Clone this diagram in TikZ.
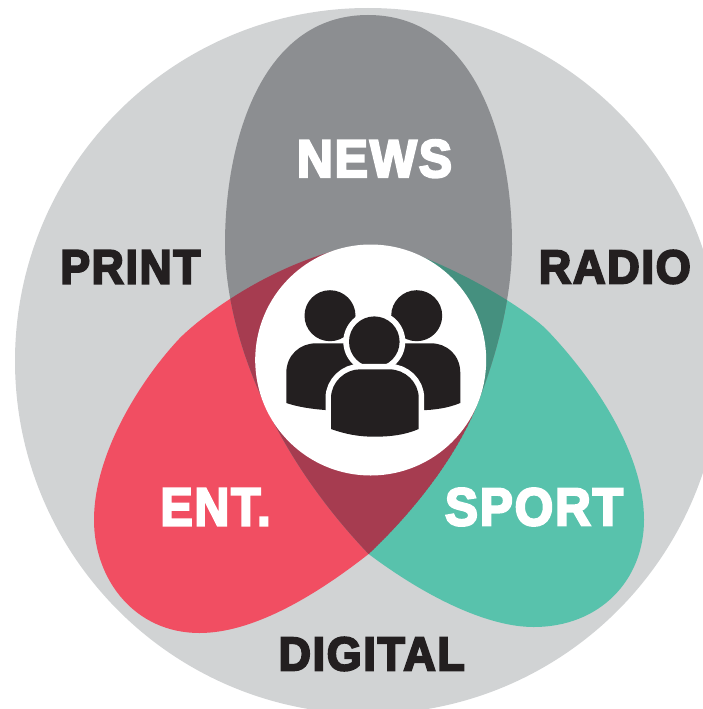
\documentclass[tikz,border=0pt]{standalone}
\usepackage{graphicx}
\usepackage{fontspec}
\newfontfamily\labfont{Liberation Sans Bold}[FakeBold=4.5,LetterSpace=4]
\definecolor{bgc}{HTML}{D1D3D4}
\definecolor{newsc}{HTML}{8C8E91}
\definecolor{entc}{HTML}{F14E62}
\definecolor{sportc}{HTML}{58C2AC}
\definecolor{darkred}{HTML}{A63C50}
\definecolor{darkgreen}{HTML}{45907F}
\definecolor{inkc}{HTML}{231F20}
\newcommand{\fitlab}[3]{\resizebox{#1pt}{#2pt}{\labfont #3}}
\tikzset{
  lab/.style={inner sep=0pt,anchor=center},
  darklab/.style={lab,text=inkc},
  whitelab/.style={lab,text=white},
  person/.style={fill=inkc,draw=none},
  halo/.style={fill=inkc,draw=white,line width=11pt}
}
\def\newspath{(368,15) .. controls (262,15) and (225,140) .. (225,244)
  .. controls (225,320) and (260,440) .. (368.6,554)
  .. controls (410,515) and (455,460) .. (477,405)
  .. controls (495,360) and (512,300) .. (512,244)
  .. controls (512,140) and (475,15) .. (368,15) -- cycle}
\def\entpath{(477,405) .. controls (455,460) and (410,515) .. (368.6,554)
  .. controls (310,600) and (250,633) .. (199.5,633)
  .. controls (135,633) and (94,580) .. (94,520)
  .. controls (94,450) and (145,375) .. (179,339)
  .. controls (195,322) and (262,268) .. (345,248)
  -- (380,300) -- cycle}
\def\sportpath{(368.6,554) .. controls (430,600) and (490,627) .. (533.6,627)
  .. controls (600,627) and (644,580) .. (644,520)
  .. controls (644,450) and (590,375) .. (547,330)
  .. controls (530,313) and (480,280) .. (420,256)
  -- (400,300) -- (330,450) -- cycle}
\begin{document}
\begin{tikzpicture}[x=1pt,y=-1pt]
\useasboundingbox (0,0) rectangle (703,709);
\begin{scope}
\clip (0,0) rectangle (703,709);
\fill[bgc] (368,361) circle[radius=353pt];
\fill[sportc] \sportpath;
\fill[entc] \entpath;
\fill[newsc] \newspath;
\begin{scope}
  \clip \newspath;
  \fill[darkgreen] \sportpath;
  \fill[darkred] \entpath;
\end{scope}
\fill[white] (370.7,360) circle[radius=115.5pt];
% back people
\fill[person] (330,315.7) circle[radius=25.5pt];
\fill[person] (416.7,315.7) circle[radius=25.5pt];
\fill[person] (286.3,403) -- (286.3,373) .. controls (286.3,355) and (300,343.3) .. (316,343.3)
  -- (431,343.3) .. controls (447,343.3) and (460.3,355) .. (460.3,373) -- (460.3,403)
  .. controls (448,408) and (435,410) .. (420,410.3) -- (325,410) .. controls (312,409) and (298,407) .. (286.3,403) -- cycle;
% front person
\fill[white] (374.3,341.7) circle[radius=31pt];
\fill[person] (374.3,341.7) circle[radius=25.3pt];
\path[halo] (331,429) -- (331,398) .. controls (331,382) and (345,369.3) .. (360,369.3)
  -- (389,369.3) .. controls (405,369.3) and (418.7,382) .. (418.7,398) -- (418.7,429)
  .. controls (405,435) and (390,436.7) .. (374.5,436.7) .. controls (358,436.7) and (345,434) .. (331,429) -- cycle;
\fill[white] (322,412) rectangle (428,445);
\fill[person] (331,429) -- (331,398) .. controls (331,382) and (345,369.3) .. (360,369.3)
  -- (389,369.3) .. controls (405,369.3) and (418.7,382) .. (418.7,398) -- (418.7,429)
  .. controls (405,435) and (390,436.7) .. (374.5,436.7) .. controls (358,436.7) and (345,434) .. (331,429) -- cycle;
\end{scope}
\node[whitelab] (news) at (374.5,158.7) {\fitlab{155}{37}{NEWS}};
\node[darklab] (print) at (130.5,267) {\fitlab{140}{33}{PRINT}};
\node[darklab] (radio) at (614.8,267) {\fitlab{152}{33}{RADIO}};
\node[whitelab] (ent) at (215.5,507) {\fitlab{110}{37}{ENT.}};
\node[whitelab] (sport) at (534,507) {\fitlab{178}{37}{SPORT}};
\node[darklab] (digital) at (371.7,654) {\fitlab{186}{33}{DIGITAL}};
\end{tikzpicture}
\end{document}
